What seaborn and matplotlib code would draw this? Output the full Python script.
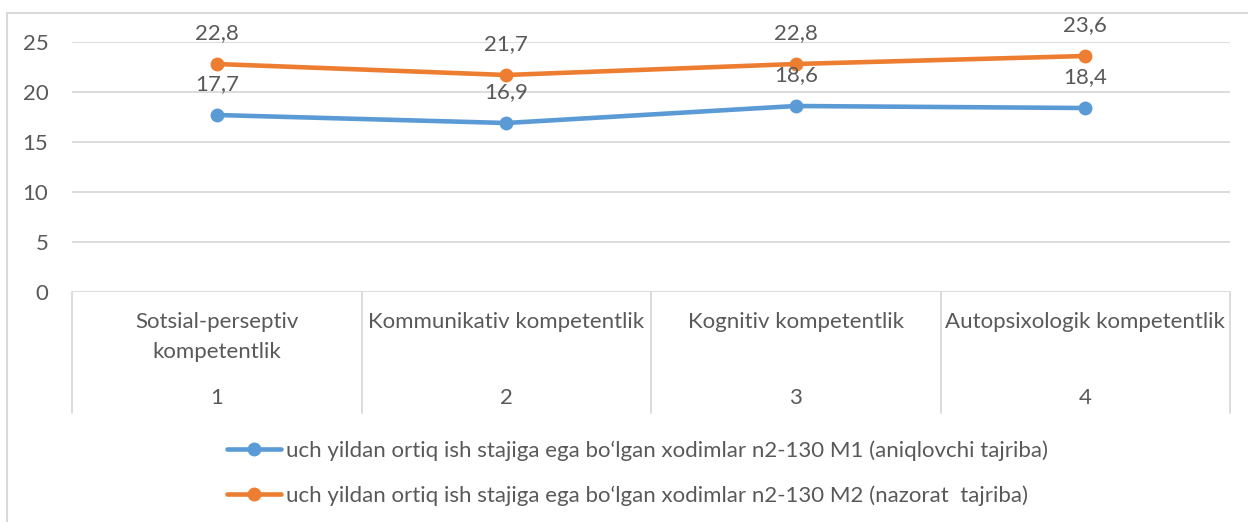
import matplotlib
matplotlib.use("Agg")
import matplotlib.pyplot as plt
import matplotlib.transforms as mtransforms
from matplotlib.patches import Rectangle
import seaborn as sns
import pandas as pd

categories = ["Sotsial-perseptiv\nkompetentlik", "Kommunikativ kompetentlik",
              "Kognitiv kompetentlik", "Autopsixologik kompetentlik"]
numbers = ["1", "2", "3", "4"]
series_names = [
    "uch yildan ortiq ish stajiga ega bo\u2018lgan xodimlar n2-130 M1 (aniqlovchi tajriba)",
    "uch yildan ortiq ish stajiga ega bo\u2018lgan xodimlar n2-130 M2 (nazorat  tajriba)",
]
m1_values = [17.7, 16.9, 18.6, 18.4]
m2_values = [22.8, 21.7, 22.8, 23.6]
colors = ["#5B9BD5", "#ED7D31"]
yticks = [0, 5, 10, 15, 20, 25]

sns.set_theme(style="white")
plt.rcParams["font.family"] = ["Lato", "DejaVu Sans"]
text_color = "#595959"
grid_color = "#D9D9D9"
FS = 16

rows = []
for name, vals in zip(series_names, [m1_values, m2_values]):
    for i, v in enumerate(vals):
        rows.append({"pos": i, "value": v, "series": name})
df = pd.DataFrame(rows)

fig = plt.figure(figsize=(12.48, 5.22), dpi=100)
ax = fig.add_axes([72 / 1248, 1 - 292 / 522, (1230 - 72) / 1248, 250 / 522])

sns.lineplot(data=df, x="pos", y="value", hue="series", palette=colors,
             hue_order=series_names, marker="o", markersize=10,
             markeredgewidth=0, linewidth=3.3, ax=ax, legend=True)

ax.set_xlim(-0.5, 3.5)
ax.set_ylim(0, 25)
ax.set_yticks(yticks)
ax.set_yticklabels([str(t) for t in yticks], fontsize=FS, color=text_color)
ax.tick_params(axis="y", length=0, pad=17)
ax.set_xticks([])
ax.set_xlabel("")
ax.set_ylabel("")
for s in ax.spines.values():
    s.set_visible(False)
for t in yticks:
    ax.axhline(t, color=grid_color, lw=1.3, zorder=0)

# data labels
for vals in [m1_values, m2_values]:
    for i, v in enumerate(vals):
        ax.annotate(f"{v:.1f}".replace(".", ","), (i, v), xytext=(0, 22),
                    textcoords="offset points", ha="center", va="center",
                    fontsize=FS, color=text_color)

# category separators and labels
trans = mtransforms.blended_transform_factory(ax.transData, ax.transAxes)
for xb in [-0.5, 0.5, 1.5, 2.5, 3.5]:
    ax.plot([xb, xb], [0, -(413 - 292) / 250], transform=trans, color=grid_color,
            lw=1.3, clip_on=False)
for i, (c, n) in enumerate(zip(categories, numbers)):
    ax.text(i, -0.082, c, transform=trans, ha="center", va="top", fontsize=FS,
            color=text_color, linespacing=1.6)
    ax.text(i, -(398 - 292) / 250, n, transform=trans, ha="center", va="center",
            fontsize=FS, color=text_color)

handles, labels = ax.get_legend_handles_labels()
ax.get_legend().remove()
fig.legend(handles, labels, loc="upper left", bbox_to_anchor=(227 / 1248, 1 - 440 / 522),
           frameon=False, fontsize=FS, handlelength=2.45, handletextpad=0.2,
           labelspacing=1.1, borderpad=0, borderaxespad=0, labelcolor=text_color)

fig.patches.append(Rectangle((7 / 1248, -0.1), 1.2, 1.1 - 13 / 522 + 0.0,
                             transform=fig.transFigure, fill=False,
                             edgecolor=grid_color, lw=1.5))

fig.savefig("out.png", dpi=100)
